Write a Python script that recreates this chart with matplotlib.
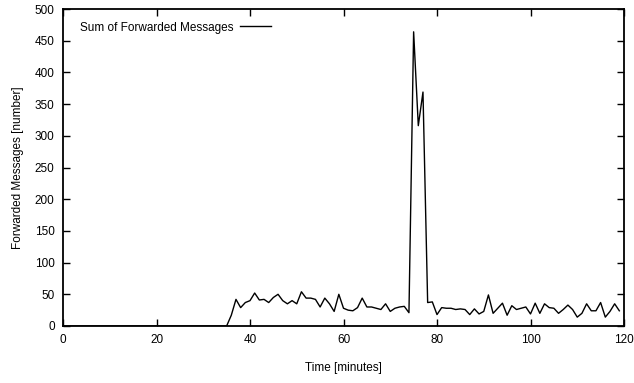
import matplotlib
matplotlib.use("Agg")
import matplotlib.pyplot as plt
import numpy as np

minutes = list(range(0, 120))
messages = [0] * 35 + [
    0, 17, 42, 29, 37, 40, 52, 41, 42, 37,      # 35-44
    45, 50, 40, 35, 40, 35, 54, 44, 44, 42,      # 45-54
    30, 44, 35, 23, 50, 28, 25, 24, 29, 44,      # 55-64
    30, 30, 28, 26, 35, 23, 28, 30, 31, 21,      # 65-74
    464, 316, 369, 37, 38, 18, 29, 28, 28, 26,   # 75-84
    27, 26, 18, 27, 19, 23, 49, 20, 28, 36,      # 85-94
    17, 32, 26, 28, 30, 19, 36, 20, 35, 29,      # 95-104
    28, 20, 26, 33, 26, 14, 20, 35, 24, 24,      # 105-114
    37, 14, 23, 35, 24,                          # 115-119
]
x_ticks = [0, 20, 40, 60, 80, 100, 120]
y_ticks = [0, 50, 100, 150, 200, 250, 300, 350, 400, 450, 500]

plt.rcParams['font.family'] = ['Liberation Sans', 'DejaVu Sans']
fig = plt.figure(figsize=(6.34, 3.83), dpi=100)
ax = fig.add_axes([63/634, 1-326/383, (624-63)/634, (326-9)/383])

ax.plot(minutes, messages, color='black', linewidth=1.0, label='Sum of Forwarded Messages')
ax.set_xlim(0, 120)
ax.set_ylim(0, 500)
ax.set_xticks(x_ticks)
ax.set_yticks(y_ticks)
ax.tick_params(direction='in', length=5, width=1, top=True, right=True, labelsize=8.5, pad=6, colors='black')
for s in ax.spines.values():
    s.set_linewidth(1.3)
ax.set_xlabel('Time [minutes]', fontsize=8.5, labelpad=11)
ax.set_ylabel('Forwarded Messages [number]', fontsize=8.5, labelpad=8)
leg = ax.legend(loc='upper left', frameon=False, markerfirst=False, fontsize=8.5,
                handlelength=2.6, handletextpad=0.6, bbox_to_anchor=(0.011, 0.994))
fig.savefig('out.png', dpi=100)
